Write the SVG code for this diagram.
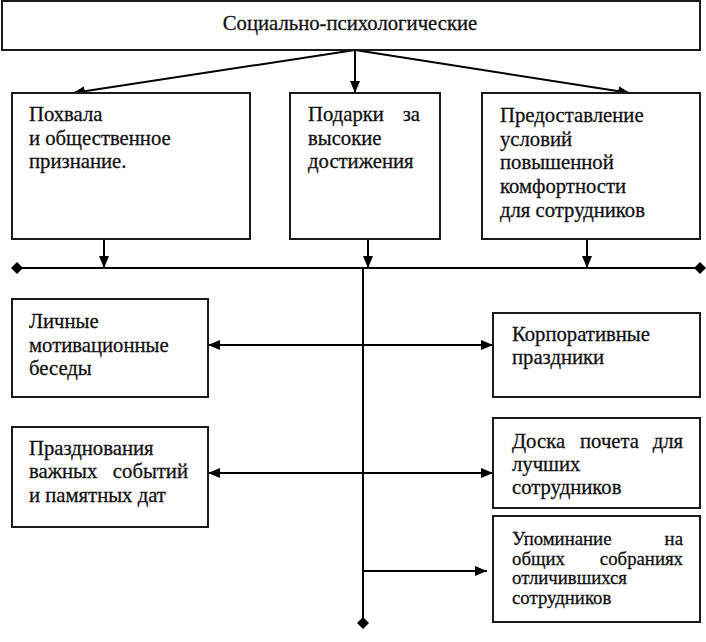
<svg xmlns="http://www.w3.org/2000/svg" width="706" height="642" viewBox="0 0 706 642">
<style>
.box{fill:#fff;stroke:#1a1a1a;stroke-width:2}
.t{font-family:"Liberation Serif","Times New Roman",serif;font-size:20.7px;fill:#111;stroke:#111;stroke-width:0.3}
.s{font-size:18.8px}
.c{fill:none;stroke:#000;stroke-width:2}
</style>
<defs>
<marker id="ah" viewBox="0 0 12 10" refX="12" refY="5" markerWidth="12" markerHeight="10" markerUnits="userSpaceOnUse" orient="auto-start-reverse"><path d="M0,0 L12,5 L0,10 z" fill="#000"/></marker>
<marker id="dm" viewBox="0 0 12 12" refX="6" refY="6" markerWidth="12" markerHeight="12" markerUnits="userSpaceOnUse"><path d="M0,6 L6,0 L12,6 L6,12 z" fill="#000"/></marker>
</defs>
<rect width="706" height="642" fill="#fff"/>
<g id="connectors">
<line class="c" x1="355" y1="50" x2="73" y2="93" marker-end="url(#ah)"/>
<line class="c" x1="355" y1="50" x2="355" y2="93" marker-end="url(#ah)"/>
<line class="c" x1="355" y1="50" x2="630" y2="93" marker-end="url(#ah)"/>
<line class="c" x1="104" y1="239" x2="104" y2="268" marker-end="url(#ah)"/>
<line class="c" x1="368" y1="239" x2="368" y2="268" marker-end="url(#ah)"/>
<line class="c" x1="587" y1="239" x2="587" y2="268" marker-end="url(#ah)"/>
<line class="c" x1="17" y1="268" x2="700" y2="268" marker-start="url(#dm)" marker-end="url(#dm)"/>
<line class="c" x1="363" y1="268" x2="363" y2="623" marker-end="url(#dm)"/>
<line class="c" x1="208" y1="345" x2="493" y2="345" marker-start="url(#ah)" marker-end="url(#ah)"/>
<line class="c" x1="208" y1="473" x2="493" y2="473" marker-start="url(#ah)" marker-end="url(#ah)"/>
<line class="c" x1="363" y1="571" x2="487" y2="571" marker-end="url(#ah)"/>
</g>
<g id="n-top">
<rect class="box" x="2" y="1" width="698" height="49"/>
<text class="t" x="350" y="30" text-anchor="middle">Социально-психологические</text>
</g>
<g id="n-praise">
<rect class="box" x="12" y="93" width="238" height="146"/>
<text class="t"><tspan x="29" y="121">Похвала</tspan><tspan x="29" y="145">и общественное</tspan><tspan x="29" y="168">признание.</tspan></text>
</g>
<g id="n-gifts">
<rect class="box" x="290" y="93" width="150" height="146"/>
<text class="t"><tspan x="308" y="121">Подарки</tspan><tspan x="420" y="121" text-anchor="end">за</tspan><tspan x="308" y="145">высокие</tspan><tspan x="308" y="168">достижения</tspan></text>
</g>
<g id="n-comfort">
<rect class="box" x="482" y="93" width="218" height="146"/>
<text class="t"><tspan x="500" y="122">Предоставление</tspan><tspan x="500" y="146">условий</tspan><tspan x="500" y="169">повышенной</tspan><tspan x="500" y="193">комфортности</tspan><tspan x="500" y="217">для сотрудников</tspan></text>
</g>
<g id="n-talks">
<rect class="box" x="12" y="299" width="196" height="98"/>
<text class="t"><tspan x="29" y="328">Личные</tspan><tspan x="29" y="352">мотивационные</tspan><tspan x="29" y="375">беседы</tspan></text>
</g>
<g id="n-celebr">
<rect class="box" x="12" y="427" width="196" height="100"/>
<text class="t"><tspan x="29" y="455">Празднования</tspan><tspan x="29" y="478">важных</tspan><tspan x="188" y="478" text-anchor="end">событий</tspan><tspan x="29" y="502">и памятных дат</tspan></text>
</g>
<g id="n-corp">
<rect class="box" x="493" y="313" width="207" height="84"/>
<text class="t"><tspan x="512" y="341">Корпоративные</tspan><tspan x="512" y="364">праздники</tspan></text>
</g>
<g id="n-board">
<rect class="box" x="493" y="418" width="207" height="90"/>
<text class="t"><tspan x="512" y="448">Доска</tspan><tspan x="580" y="448">почета</tspan><tspan x="683" y="448" text-anchor="end">для</tspan><tspan x="512" y="471">лучших</tspan><tspan x="512" y="494">сотрудников</tspan></text>
</g>
<g id="n-mention">
<rect class="box" x="493" y="516" width="207" height="106"/>
<text class="t s"><tspan x="512" y="545">Упоминание</tspan><tspan x="683" y="545" text-anchor="end">на</tspan><tspan x="512" y="565">общих</tspan><tspan x="683" y="565" text-anchor="end">собраниях</tspan><tspan x="512" y="584">отличившихся</tspan><tspan x="512" y="604">сотрудников</tspan></text>
</g>
</svg>
